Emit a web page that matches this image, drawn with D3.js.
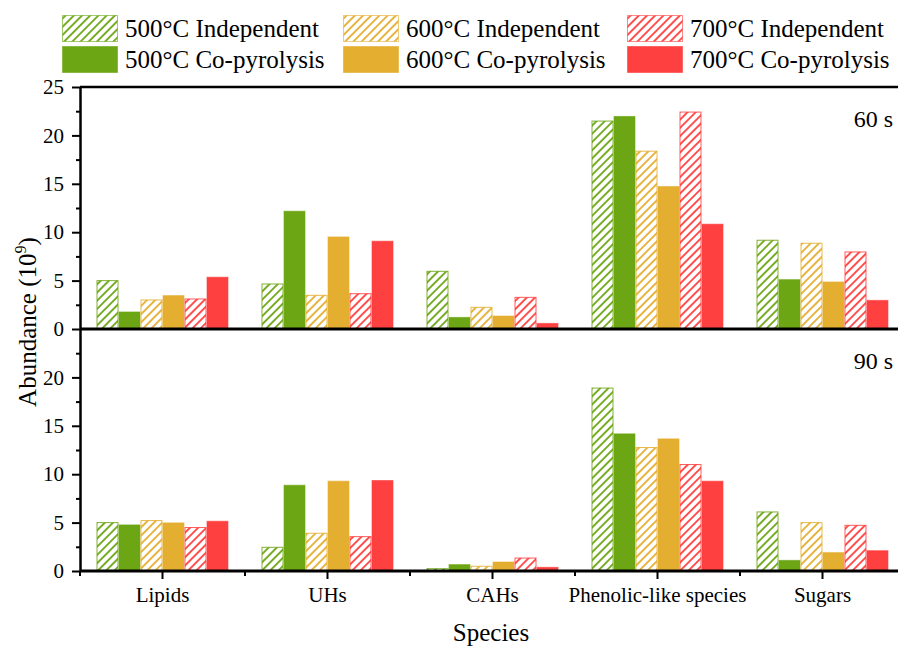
<!DOCTYPE html>
<html>
<head>
<meta charset="utf-8">
<script src="https://cdn.jsdelivr.net/npm/d3@7"></script>
<style>
  body { margin: 0; background: #fff; }
</style>
</head>
<body>
<svg id="chart" width="898" height="646" font-family="Liberation Serif"></svg>
<script>
// categories and series
var categories = ["Lipids", "UHs", "CAHs", "Phenolic-like species", "Sugars"];
var seriesNames = ["500°C Independent", "500°C Co-pyrolysis", "600°C Independent",
                   "600°C Co-pyrolysis", "700°C Independent", "700°C Co-pyrolysis"];
var yTicks = [0, 5, 10, 15, 20, 25];

// 60 s values (10^9)
var ind500_60 = [5.0, 4.65, 5.96, 21.48, 9.17];
var co500_60  = [1.76, 12.17, 1.2, 21.96, 5.1];
var ind600_60 = [3.0, 3.48, 2.24, 18.37, 8.86];
var co600_60  = [3.45, 9.51, 1.34, 14.72, 4.86];
var ind700_60 = [3.1, 3.65, 3.27, 22.41, 7.96];
var co700_60  = [5.35, 9.07, 0.58, 10.83, 2.96];

// 90 s values (10^9)
var ind500_90 = [5.0, 2.45, 0.24, 18.9, 6.1];
var co500_90  = [4.76, 8.86, 0.66, 14.17, 1.1];
var ind600_90 = [5.21, 3.9, 0.49, 12.76, 5.0];
var co600_90  = [4.97, 9.28, 0.93, 13.65, 1.9];
var ind700_90 = [4.49, 3.55, 1.34, 11.0, 4.72];
var co700_90  = [5.14, 9.35, 0.38, 9.28, 2.1];

var colors = ["#6ca614", "#6ca614", "#e4ae30", "#e4ae30", "#ff4040", "#ff4040"];
var hatched = [true, false, true, false, true, false];
var FONT = "Liberation Serif";

var panels = [
  {label: "60 s", series: [ind500_60, co500_60, ind600_60, co600_60, ind700_60, co700_60], top: 87, bottom: 329, first: true},
  {label: "90 s", series: [ind500_90, co500_90, ind600_90, co600_90, ind700_90, co700_90], top: 329, bottom: 571, first: false}
];

var svg = d3.select("#chart");
var left = 80, right = 905;

// hatch patterns
var defs = svg.append("defs");
["g", "o", "r"].forEach(function (k, i) {
  var p = defs.append("pattern")
    .attr("id", "hatch-" + k)
    .attr("patternUnits", "userSpaceOnUse")
    .attr("width", 5.8).attr("height", 5.8)
    .attr("patternTransform", "rotate(45)");
  p.append("rect").attr("width", 5.8).attr("height", 5.8).attr("fill", "#fff");
  p.append("line")
    .attr("x1", 2.9).attr("y1", 0).attr("x2", 2.9).attr("y2", 5.8)
    .attr("stroke", colors[i * 2]).attr("stroke-width", 1.8);
});
var hatchIds = ["hatch-g", "hatch-g", "hatch-o", "hatch-o", "hatch-r", "hatch-r"];

var x = d3.scaleBand().domain(categories).range([left, right])
  .paddingInner(0.2).paddingOuter(0.1);
var xs = d3.scaleBand().domain(d3.range(seriesNames.length)).range([0, x.bandwidth()]);

panels.forEach(function (pn) {
  var y = d3.scaleLinear().domain([0, 25]).range([pn.bottom, pn.top]);
  var g = svg.append("g");

  pn.series.forEach(function (vals, si) {
    g.selectAll(null)
      .data(vals)
      .enter().append("rect")
      .attr("x", function (d, i) { return x(categories[i]) + xs(si) + 0.5; })
      .attr("y", function (d) { return y(d); })
      .attr("width", xs.bandwidth() - 1)
      .attr("height", function (d) { return y(0) - y(d); })
      .attr("fill", hatched[si] ? "url(#" + hatchIds[si] + ")" : colors[si])
      .attr("stroke", colors[si])
      .attr("stroke-opacity", hatched[si] ? 0.85 : 0.6)
      .attr("stroke-width", 1);
  });

  // y axis
  var ticks = pn.first ? yTicks : yTicks.slice(0, -1);
  var yAxis = d3.axisLeft(y).tickValues(ticks).tickSize(8).tickSizeOuter(0);
  var ya = g.append("g").attr("transform", "translate(" + left + ",0)").call(yAxis)
    .attr("font-family", FONT);
  ya.select(".domain").attr("stroke-width", 2.5);
  ya.selectAll(".tick line").attr("stroke-width", 2);
  ya.selectAll(".tick text").attr("font-size", 21).attr("x", -16)
    .attr("font-family", FONT).attr("fill", "#000");
  var minor = d3.axisLeft(y).tickValues(d3.range(2.5, 25, 5)).tickSize(4).tickFormat("");
  var ym = g.append("g").attr("transform", "translate(" + left + ",0)").call(minor);
  ym.select(".domain").remove();
  ym.selectAll(".tick line").attr("stroke-width", 2);

  // panel frame lines
  g.append("line").attr("x1", left).attr("x2", right)
    .attr("y1", pn.top).attr("y2", pn.top)
    .attr("stroke", "#000").attr("stroke-width", pn.first ? 2.5 : 1.5);
  g.append("line").attr("x1", left).attr("x2", right)
    .attr("y1", pn.bottom).attr("y2", pn.bottom)
    .attr("stroke", "#000").attr("stroke-width", 3);

  g.append("text")
    .attr("x", 893).attr("y", pn.top + 40)
    .attr("text-anchor", "end").attr("font-size", 24)
    .attr("font-family", FONT)
    .text(pn.label);
});

// bottom x axis
var xAxis = d3.axisBottom(x).tickSize(8).tickSizeOuter(0);
var xa = svg.append("g").attr("transform", "translate(0,571)").call(xAxis)
  .attr("font-family", FONT);
xa.select(".domain").remove();
xa.selectAll(".tick line").attr("stroke-width", 2);
xa.selectAll(".tick text").attr("font-size", 21).attr("y", 16)
  .attr("font-family", FONT).attr("fill", "#000");
var bounds = categories.slice(1).map(function (c) { return x(c) - x.step() * 0.1; });
bounds.unshift(left);
xa.selectAll(".minor").data(bounds).enter().append("line")
  .attr("x1", function (d) { return d; }).attr("x2", function (d) { return d; })
  .attr("y1", 0).attr("y2", 5)
  .attr("stroke", "#000").attr("stroke-width", 2);

// axis titles
svg.append("text")
  .attr("x", 491).attr("y", 641)
  .attr("text-anchor", "middle").attr("font-size", 25)
  .attr("font-family", FONT)
  .text("Species");

var yt = svg.append("text")
  .attr("transform", "translate(36,322) rotate(-90)")
  .attr("text-anchor", "middle").attr("font-size", 25)
  .attr("font-family", FONT);
yt.append("tspan").text("Abundance (10");
yt.append("tspan").attr("dy", -10).attr("font-size", 16).text("9");
yt.append("tspan").attr("dy", 10).text(")");

// legend
var legX = [62, 343, 627];
var legY = [15, 46];
seriesNames.forEach(function (name, i) {
  var col = Math.floor(i / 2), row = i % 2;
  var lg = svg.append("g").attr("transform", "translate(" + legX[col] + "," + legY[row] + ")");
  lg.append("rect")
    .attr("x", 0.5).attr("y", 0.5).attr("width", 55).attr("height", 26)
    .attr("fill", hatched[i] ? "url(#" + hatchIds[i] + ")" : colors[i])
    .attr("stroke", colors[i]).attr("stroke-opacity", 0.6);
  lg.append("text")
    .attr("x", 63).attr("y", 22)
    .attr("font-size", 25)
    .attr("font-family", FONT)
    .text(name);
});
</script>
</body>
</html>
